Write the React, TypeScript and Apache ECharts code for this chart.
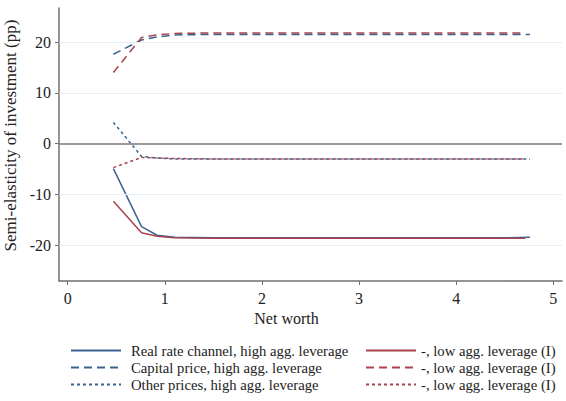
import React, { useRef, useEffect } from 'react'
import * as echarts from 'echarts'

// net worth grid of the high / low leverage runs
const xsHigh = [0.47, 0.76, 0.92, 1.1, 1.5, 2.0, 2.5, 3.0, 3.5, 4.0, 4.5, 4.76]
const xsLow = [0.47, 0.76, 0.92, 1.1, 1.5, 2.0, 2.5, 3.0, 3.5, 4.0, 4.5, 4.71]

const realRateHigh = [-4.9, -16.3, -18.0, -18.4, -18.5, -18.5, -18.5, -18.5, -18.5, -18.5, -18.5, -18.4]
const capitalHigh = [17.6, 20.4, 21.0, 21.4, 21.5, 21.5, 21.5, 21.5, 21.5, 21.5, 21.5, 21.5]
const otherHigh = [4.2, -2.5, -2.8, -3.0, -3.0, -3.0, -3.0, -3.0, -3.0, -3.0, -3.0, -3.0]

const realRateLow = [-11.3, -17.5, -18.2, -18.5, -18.6, -18.6, -18.6, -18.6, -18.6, -18.6, -18.6, -18.6]
const capitalLow = [14.0, 20.9, 21.4, 21.7, 21.8, 21.8, 21.8, 21.8, 21.8, 21.8, 21.8, 21.8]
const otherLow = [-4.7, -2.7, -2.8, -2.9, -3.0, -3.0, -3.0, -3.0, -3.0, -3.0, -3.0, -3.0]

const xTicks = [0, 1, 2, 3, 4, 5]
const yTicks = [-20, -10, 0, 10, 20]
const yGrid = [-20, -10, 10, 20]

const highNames = [
  'Real rate channel, high agg. leverage',
  'Capital price, high agg. leverage',
  'Other prices, high agg. leverage'
]
const lowNames = ['Real rate low', 'Capital price low', 'Other prices low']
const lowLabel = '-, low agg. leverage (I)'

const BLUE = '#3b6391'
const RED = '#a8434f'
const FONT = '"Liberation Serif", "DejaVu Serif", serif'

const dashTypes: any[] = ['solid', [8, 5], [3, 3]]

const App: React.FC = () => {
  const chartRef = useRef<HTMLDivElement>(null)

  useEffect(() => {
    if (!chartRef.current) return
    const chart = echarts.init(chartRef.current, undefined, { renderer: 'svg' })

    const pairs = (xs: number[], ys: number[]) => xs.map((x, i) => [x, ys[i]])
    const highData = [realRateHigh, capitalHigh, otherHigh]
    const lowData = [realRateLow, capitalLow, otherLow]

    const series: any[] = []
    highData.forEach((ys, i) => {
      series.push({
        name: highNames[i],
        type: 'line',
        data: pairs(xsHigh, ys),
        symbol: 'none',
        lineStyle: { color: BLUE, width: 1.5, type: dashTypes[i] },
        itemStyle: { color: BLUE }
      })
    })
    lowData.forEach((ys, i) => {
      series.push({
        name: lowNames[i],
        type: 'line',
        data: pairs(xsLow, ys),
        symbol: 'none',
        lineStyle: { color: RED, width: 1.5, type: dashTypes[i] },
        itemStyle: { color: RED }
      })
    })

    // grid lines and the zero line
    series[0].markLine = {
      silent: true,
      symbol: 'none',
      label: { show: false },
      data: [
        ...yGrid.map(v => ({ yAxis: v, lineStyle: { color: '#e6eff2', width: 1, type: 'solid' } })),
        { yAxis: 0, lineStyle: { color: '#7a7a7a', width: 1.5, type: 'solid' } }
      ]
    }

    const legendBase = {
      orient: 'vertical',
      top: 338,
      itemWidth: 50,
      itemHeight: 14,
      itemGap: 2,
      selectedMode: false,
      itemStyle: { opacity: 0 }
    }
    const legendText = { fontFamily: FONT, fontSize: 14.7, color: '#222' }

    const option: any = {
      animation: false,
      legend: [
        { ...legendBase, left: 65, data: highNames, textStyle: { ...legendText, padding: [0, 0, 0, 5] } },
        { ...legendBase, left: 360, data: lowNames, formatter: () => lowLabel, textStyle: legendText }
      ],
      grid: { left: 59, right: 4, top: 8, bottom: 120, containLabel: false, outerBoundsMode: 'none' },
      xAxis: {
        type: 'value',
        min: -0.09,
        max: 5.09,
        name: 'Net worth',
        nameLocation: 'middle',
        nameGap: 29,
        nameTextStyle: { fontFamily: FONT, fontSize: 16, color: '#222', padding: [0, 48, 0, 0] },
        axisLine: { onZero: false, lineStyle: { color: '#707070', width: 1.5 } },
        axisTick: { customValues: xTicks, length: 4, lineStyle: { color: '#707070' } },
        axisLabel: { customValues: xTicks, fontFamily: FONT, fontSize: 16, color: '#222', margin: 9 },
        splitLine: { show: false }
      },
      yAxis: {
        type: 'value',
        min: -27,
        max: 26.7,
        name: 'Semi-elasticity of investment (pp)',
        nameLocation: 'middle',
        nameGap: 33,
        nameTextStyle: { fontFamily: FONT, fontSize: 17, color: '#222', padding: [0, 0, 0, 18] },
        axisLine: { show: true, onZero: false, lineStyle: { color: '#707070', width: 1.5 } },
        axisTick: { show: true, customValues: yTicks, length: 4, lineStyle: { color: '#707070' } },
        axisLabel: { customValues: yTicks, fontFamily: FONT, fontSize: 16, color: '#222', margin: 8 },
        splitLine: { show: false }
      },
      series
    }

    chart.setOption(option)
    return () => {
      chart.dispose()
    }
  }, [])

  return (
    <div
      ref={chartRef}
      style={{ position: 'absolute', left: 0, top: 0, width: 566, height: 401, background: '#fff' }}
    />
  )
}

export default App
